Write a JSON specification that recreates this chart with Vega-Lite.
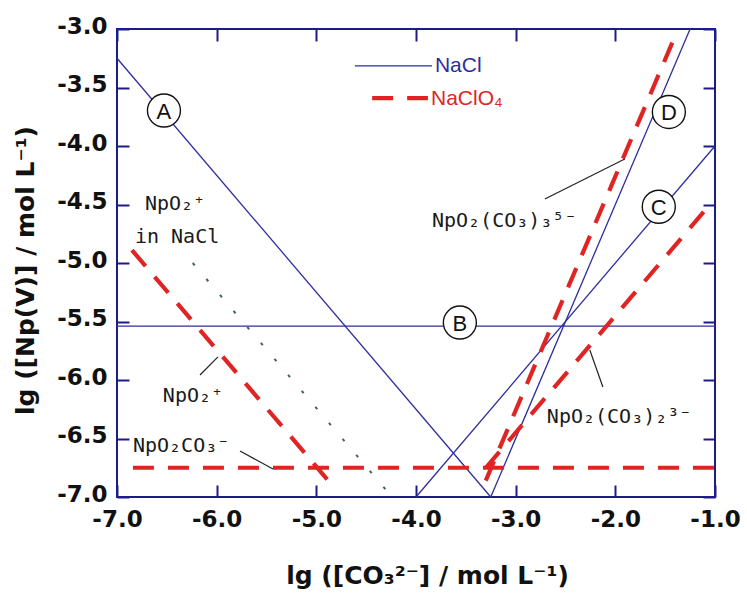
{
  "$schema": "https://vega.github.io/schema/vega-lite/v6.json",
  "width": 598,
  "height": 468,
  "autosize": {"type": "none"},
  "padding": {"left": 117, "top": 29, "right": 32, "bottom": 98},
  "background": "white",
  "config": {
    "view": {"stroke": "#1c1c88", "strokeWidth": 2},
    "axis": {
      "grid": false, "domain": false,
      "tickColor": "#1c1c88", "tickWidth": 2, "tickSize": -12,
      "labelFont": "DejaVu Sans", "labelFontWeight": "bold", "labelFontSize": 23, "labelColor": "#111111",
      "titleFont": "DejaVu Sans", "titleFontWeight": "bold", "titleFontSize": 25, "titleColor": "#111111",
      "labelFlush": false, "labelOverlap": false, "labelBound": false
    }
  },
  "datasets": {
    "nacl": [
      {"curve": "A", "medium": "NaCl", "x": -7, "y": -3.25},
      {"curve": "A", "medium": "NaCl", "x": -3.25, "y": -7},
      {"curve": "B", "medium": "NaCl", "x": -7, "y": -5.54},
      {"curve": "B", "medium": "NaCl", "x": -1, "y": -5.54},
      {"curve": "C", "medium": "NaCl", "x": -4.0, "y": -7},
      {"curve": "C", "medium": "NaCl", "x": -1, "y": -4.0},
      {"curve": "D", "medium": "NaCl", "x": -3.25, "y": -7},
      {"curve": "D", "medium": "NaCl", "x": -1.25, "y": -3.0}
    ],
    "naclo4": [
      {"curve": "NpO2+", "medium": "NaClO₄", "x": -6.85, "y": -4.89},
      {"curve": "NpO2+", "medium": "NaClO₄", "x": -4.88, "y": -6.86},
      {"curve": "NpO2CO3-", "medium": "NaClO₄", "x": -6.84, "y": -6.75},
      {"curve": "NpO2CO3-", "medium": "NaClO₄", "x": -1.0, "y": -6.75},
      {"curve": "NpO2(CO3)3", "medium": "NaClO₄", "x": -3.3, "y": -6.86},
      {"curve": "NpO2(CO3)3", "medium": "NaClO₄", "x": -1.4, "y": -3.06},
      {"curve": "NpO2(CO3)2", "medium": "NaClO₄", "x": -3.3, "y": -6.75},
      {"curve": "NpO2(CO3)2", "medium": "NaClO₄", "x": -1.03, "y": -4.48}
    ],
    "free_nacl": [
      {"species": "NpO2+ in NaCl", "x": -6.24, "y": -5.0},
      {"species": "NpO2+ in NaCl", "x": -4.24, "y": -7.0}
    ],
    "leaders": [
      {"x": -2.707, "y": -4.453, "x2": -1.905, "y2": -4.111},
      {"x": -2.256, "y": -5.744, "x2": -2.125, "y2": -6.06},
      {"x": -6.167, "y": -5.957, "x2": -5.987, "y2": -5.803},
      {"x": -5.766, "y": -6.607, "x2": -5.435, "y2": -6.761}
    ],
    "circles": [
      {"letter": "A", "x": -6.529, "y": -3.697},
      {"letter": "B", "x": -3.56, "y": -5.509},
      {"letter": "C", "x": -1.564, "y": -4.519},
      {"letter": "D", "x": -1.463, "y": -3.709}
    ],
    "notes": [
      {"label": "NpO₂⁺", "x": -6.72, "y": -4.547},
      {"label": "in NaCl", "x": -6.82, "y": -4.829},
      {"label": "NpO₂⁺", "x": -6.54, "y": -6.188},
      {"label": "NpO₂CO₃⁻", "x": -6.84, "y": -6.615},
      {"label": "NpO₂(CO₃)₃⁵⁻", "x": -3.84, "y": -4.692},
      {"label": "NpO₂(CO₃)₂³⁻", "x": -2.687, "y": -6.368}
    ],
    "legend": [
      {"medium": "NaCl", "x": -4.613, "x2": -3.84, "y": -3.316, "ty": -3.368},
      {"medium": "NaClO₄", "x": -4.44, "x2": -3.88, "y": -3.59, "ty": -3.65}
    ]
  },
  "layer": [
    {
      "data": {"name": "nacl"},
      "mark": {"type": "line", "strokeWidth": 1.3},
      "encoding": {
        "x": {"field": "x", "type": "quantitative", "scale": {"domain": [-7, -1], "nice": false, "zero": false},
          "axis": {"orient": "bottom", "values": [-7, -6, -5, -4, -3, -2, -1],
            "labelExpr": "replace(format(datum.value, '.1f'), '\u2212', '-')",
            "labelPadding": 23, "title": "lg ([CO₃²⁻] / mol L⁻¹)",
            "titleX": 310, "titleY": 86, "titleBaseline": "alphabetic", "titleAlign": "center"}},
        "y": {"field": "y", "type": "quantitative", "scale": {"domain": [-7, -3], "nice": false, "zero": false},
          "axis": {"orient": "left", "values": [-7, -6.5, -6, -5.5, -5, -4.5, -4, -3.5, -3],
            "labelExpr": "replace(format(datum.value, '.1f'), '\u2212', '-')",
            "labelPadding": 22, "labelOffset": -3, "title": "lg ([Np(V)] / mol L⁻¹)",
            "titleX": -84, "titleY": 241, "titleAngle": -90, "titleBaseline": "alphabetic", "titleAlign": "center"}},
        "detail": {"field": "curve", "type": "nominal"},
        "color": {"field": "medium", "type": "nominal", "legend": null,
          "scale": {"domain": ["NaCl", "NaClO₄"], "range": ["#2e2e9e", "#e02424"]}}
      }
    },
    {
      "data": {"name": "naclo4"},
      "mark": {"type": "line", "strokeWidth": 4.2, "strokeDash": [21, 14], "strokeCap": "butt"},
      "encoding": {
        "x": {"field": "x", "type": "quantitative", "scale": {"domain": [-7, -1], "nice": false, "zero": false},
          "axis": {"orient": "top", "values": [-7, -6, -5, -4, -3, -2, -1], "labels": false, "title": null}},
        "y": {"field": "y", "type": "quantitative", "scale": {"domain": [-7, -3], "nice": false, "zero": false},
          "axis": {"orient": "right", "values": [-7, -6.5, -6, -5.5, -5, -4.5, -4, -3.5, -3], "labels": false, "title": null}},
        "detail": {"field": "curve", "type": "nominal"},
        "color": {"field": "medium", "type": "nominal", "legend": null,
          "scale": {"domain": ["NaCl", "NaClO₄"], "range": ["#2e2e9e", "#e02424"]}}
      }
    },
    {
      "data": {"name": "free_nacl"},
      "mark": {"type": "line", "color": "#3f6650", "strokeWidth": 2, "strokeDash": [3, 18]},
      "encoding": {
        "x": {"field": "x", "type": "quantitative", "scale": {"domain": [-7, -1], "nice": false, "zero": false}, "axis": null},
        "y": {"field": "y", "type": "quantitative", "scale": {"domain": [-7, -3], "nice": false, "zero": false}, "axis": null}
      }
    },
    {
      "data": {"name": "leaders"},
      "mark": {"type": "rule", "color": "#222222", "strokeWidth": 1.2},
      "encoding": {
        "x": {"field": "x", "type": "quantitative", "scale": {"domain": [-7, -1], "nice": false, "zero": false}, "axis": null},
        "y": {"field": "y", "type": "quantitative", "scale": {"domain": [-7, -3], "nice": false, "zero": false}, "axis": null},
        "x2": {"field": "x2"},
        "y2": {"field": "y2"}
      }
    },
    {
      "data": {"name": "circles"},
      "mark": {"type": "point", "shape": "circle", "filled": false, "fill": "white", "fillOpacity": 1, "stroke": "#111111", "strokeWidth": 1.4, "size": 1089, "opacity": 1},
      "encoding": {
        "x": {"field": "x", "type": "quantitative", "scale": {"domain": [-7, -1], "nice": false, "zero": false}, "axis": null},
        "y": {"field": "y", "type": "quantitative", "scale": {"domain": [-7, -3], "nice": false, "zero": false}, "axis": null}
      }
    },
    {
      "data": {"name": "circles"},
      "mark": {"type": "text", "font": "Liberation Sans", "fontSize": 22, "color": "#111111", "align": "center", "baseline": "middle", "dy": 1},
      "encoding": {
        "x": {"field": "x", "type": "quantitative", "scale": {"domain": [-7, -1], "nice": false, "zero": false}, "axis": null},
        "y": {"field": "y", "type": "quantitative", "scale": {"domain": [-7, -3], "nice": false, "zero": false}, "axis": null},
        "text": {"field": "letter"}
      }
    },
    {
      "data": {"name": "notes"},
      "mark": {"type": "text", "font": "DejaVu Sans Mono", "fontSize": 20, "color": "#1a1a1a", "align": "left", "baseline": "alphabetic"},
      "encoding": {
        "x": {"field": "x", "type": "quantitative", "scale": {"domain": [-7, -1], "nice": false, "zero": false}, "axis": null},
        "y": {"field": "y", "type": "quantitative", "scale": {"domain": [-7, -3], "nice": false, "zero": false}, "axis": null},
        "text": {"field": "label"}
      }
    },
    {
      "data": {"name": "legend"},
      "transform": [{"filter": "datum.medium === 'NaCl'"}],
      "mark": {"type": "rule", "strokeWidth": 1.3},
      "encoding": {
        "x": {"field": "x", "type": "quantitative", "scale": {"domain": [-7, -1], "nice": false, "zero": false}, "axis": null},
        "x2": {"field": "x2"},
        "y": {"field": "y", "type": "quantitative", "scale": {"domain": [-7, -3], "nice": false, "zero": false}, "axis": null},
        "color": {"field": "medium", "type": "nominal", "legend": null,
          "scale": {"domain": ["NaCl", "NaClO₄"], "range": ["#2e2e9e", "#e02424"]}}
      }
    },
    {
      "data": {"name": "legend"},
      "transform": [{"filter": "datum.medium === 'NaClO₄'"}],
      "mark": {"type": "rule", "strokeWidth": 4.2, "strokeDash": [21, 14], "strokeCap": "butt"},
      "encoding": {
        "x": {"field": "x", "type": "quantitative", "scale": {"domain": [-7, -1], "nice": false, "zero": false}, "axis": null},
        "x2": {"field": "x2"},
        "y": {"field": "y", "type": "quantitative", "scale": {"domain": [-7, -3], "nice": false, "zero": false}, "axis": null},
        "color": {"field": "medium", "type": "nominal", "legend": null,
          "scale": {"domain": ["NaCl", "NaClO₄"], "range": ["#2e2e9e", "#e02424"]}}
      }
    },
    {
      "data": {"name": "legend"},
      "mark": {"type": "text", "font": "Liberation Sans", "fontSize": 21, "align": "left", "baseline": "alphabetic", "dx": 3},
      "encoding": {
        "x": {"field": "x2", "type": "quantitative", "scale": {"domain": [-7, -1], "nice": false, "zero": false}, "axis": null},
        "y": {"field": "ty", "type": "quantitative", "scale": {"domain": [-7, -3], "nice": false, "zero": false}, "axis": null},
        "text": {"field": "medium"},
        "color": {"field": "medium", "type": "nominal", "legend": null,
          "scale": {"domain": ["NaCl", "NaClO₄"], "range": ["#2e2e9e", "#d42a2a"]}}
      }
    }
  ],
  "resolve": {"axis": {"x": "independent", "y": "independent"}}
}
